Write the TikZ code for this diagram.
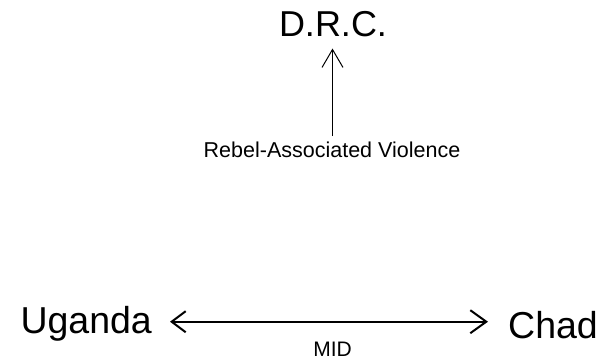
\documentclass[tikz,border=0pt]{standalone}
\usepackage{fontspec}
\setmainfont{Liberation Sans}
\usetikzlibrary{arrows.meta}
\tikzset{
  country/.style={anchor=base, inner sep=0pt, font=\fontsize{37}{40}\selectfont},
  lbl/.style={anchor=base, inner sep=0pt, font=\fontsize{21}{24}\selectfont},
  thinarrow/.style={line width=1pt, -{Straight Barb[length=18pt,width=21pt]}},
  thickarrow/.style={line width=2pt, {Straight Barb[length=14pt,width=21pt]}-{Straight Barb[length=16pt,width=23pt]}}
}
\begin{document}
\begin{tikzpicture}[x=1pt,y=-1pt]
\useasboundingbox (0,0) rectangle (612,362);
\node[country, font=\fontsize{36}{40}\selectfont] (drc) at (333,36.7) {D.R.C.};
\node[lbl, font=\fontsize{21.5}{24}\selectfont] (rebel) at (332,157.3) {Rebel-Associated Violence};
\node[country, font=\fontsize{37.5}{40}\selectfont] (uganda) at (86.2,333) {Uganda};
\node[country, font=\fontsize{37.5}{40}\selectfont] (chad) at (553,338) {Chad};
\node[lbl] (mid) at (332.5,356.7) {MID};
\coordinate (vbot) at (332.5,136);
\coordinate (vtop) at (332.5,48.5);
\coordinate (hl) at (170,321.7);
\coordinate (hr) at (488,321.7);
\draw[thinarrow] (vbot) -- (vtop);
\draw[thickarrow] (hl) -- (hr);
\end{tikzpicture}
\end{document}
